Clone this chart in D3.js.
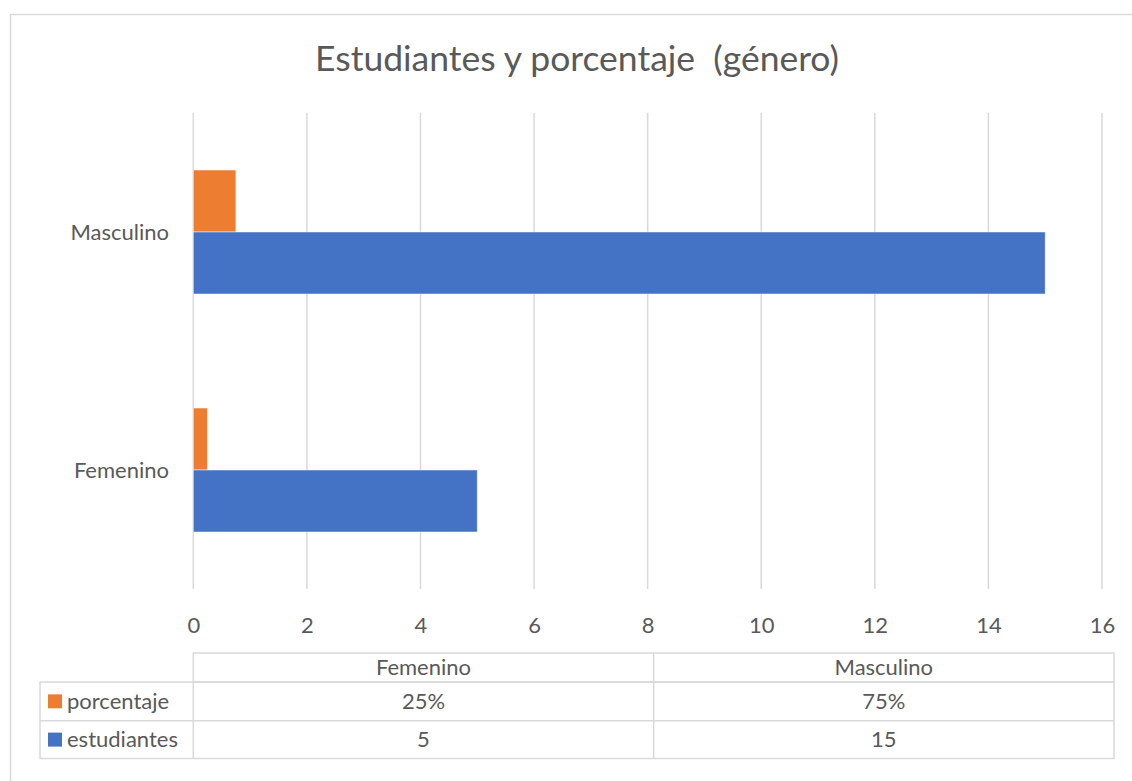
<!DOCTYPE html>
<html>
<head>
<meta charset="utf-8">
<script src="https://cdn.jsdelivr.net/npm/d3@7"></script>
<style>
  html, body { margin: 0; padding: 0; background: #fff; }
  svg { display: block; font-family: Lato, "Open Sans", sans-serif; }
  text { fill: #595959; }
</style>
</head>
<body>
<svg id="chart" width="1132" height="781"></svg>
<script>
// Categories and series
const categories = ["Masculino", "Femenino"];
const seriesNames = ["porcentaje", "estudiantes"];
const seriesColors = ["#ED7D31", "#4472C4"];
const tableColumns = ["Femenino", "Masculino"];
const estudiantes = { Femenino: 5, Masculino: 15 };
const porcentaje = { Femenino: 0.25, Masculino: 0.75 };
const xTickValues = [0, 2, 4, 6, 8, 10, 12, 14, 16];
const titleText = "Estudiantes y porcentaje  (género)";

const seriesValues = { porcentaje, estudiantes };
const valueFormat = { porcentaje: d3.format(".0%"), estudiantes: d3.format("d") };

const svg = d3.select("#chart");
const gridColor = "#D9D9D9";
const labelSize = 22;

// Chart frame
svg.append("rect")
  .attr("x", 10.5).attr("y", 14.5)
  .attr("width", 1140).attr("height", 790)
  .attr("fill", "#fff").attr("stroke", gridColor).attr("stroke-width", 1.5);

// Title
svg.append("text")
  .attr("x", 577).attr("y", 71)
  .attr("text-anchor", "middle")
  .style("white-space", "pre")
  .attr("font-size", 35.5)
  .text(titleText);

// Scales
const plotTop = 113, plotBottom = 589;
const x = d3.scaleLinear().domain([0, 16]).range([193.3, 1102]);
const y = d3.scaleBand().domain(categories).range([plotTop, plotBottom])
  .paddingInner(0.479).paddingOuter(0.2395);
const ySub = d3.scaleBand().domain(seriesNames).range([0, y.bandwidth()]);
const color = d3.scaleOrdinal().domain(seriesNames).range(seriesColors);

// Vertical gridlines
svg.append("g").selectAll("line").data(xTickValues).join("line")
  .attr("x1", d => x(d)).attr("x2", d => x(d))
  .attr("y1", plotTop).attr("y2", plotBottom)
  .attr("stroke", gridColor).attr("stroke-width", 1.5);

// Bottom axis labels
const xAxis = d3.axisBottom(x).tickValues(xTickValues).tickSize(0).tickPadding(0);
const gx = svg.append("g").attr("transform", `translate(0,633)`).call(xAxis);
gx.select(".domain").remove();
gx.selectAll("text")
  .attr("font-family", "Lato, 'Open Sans', sans-serif")
  .attr("font-size", labelSize).attr("fill", "#595959").attr("y", 0).attr("dy", 0);

// Category labels
svg.append("g").selectAll("text").data(categories).join("text")
  .attr("x", 169).attr("y", d => y(d) + y.bandwidth() / 2)
  .attr("text-anchor", "end").attr("dy", "0.35em")
  .attr("font-size", labelSize)
  .text(d => d);

// Bars
const groups = svg.append("g").selectAll("g").data(categories).join("g")
  .attr("transform", d => `translate(0,${y(d)})`);
groups.selectAll("rect")
  .data(cat => seriesNames.map(s => ({ series: s, value: seriesValues[s][cat] })))
  .join("rect")
  .attr("x", x(0))
  .attr("y", d => ySub(d.series))
  .attr("width", d => x(d.value) - x(0))
  .attr("height", ySub.bandwidth())
  .attr("fill", d => color(d.series))
  .attr("stroke", "rgba(255,255,255,0.6)").attr("stroke-width", 0.8);

// Data table
const tableLeft = 40, tableRight = 1114;
const headerTop = 653, rowTops = [682, 720.7], rowBottom = 758.5;
const col = d3.scaleBand().domain(tableColumns).range([x(0), tableRight]);
const table = svg.append("g")
  .attr("fill", "none").attr("stroke", gridColor).attr("stroke-width", 1.5);

// header box
table.append("rect").attr("x", x(0)).attr("y", headerTop)
  .attr("width", tableRight - x(0)).attr("height", rowTops[0] - headerTop);
// body box
table.append("rect").attr("x", tableLeft).attr("y", rowTops[0])
  .attr("width", tableRight - tableLeft).attr("height", rowBottom - rowTops[0]);
// row separator
table.append("line").attr("x1", tableLeft).attr("x2", tableRight)
  .attr("y1", rowTops[1]).attr("y2", rowTops[1]);
// column separators
[x(0), ...tableColumns.slice(1).map(c => col(c))].forEach(cx => {
  table.append("line").attr("x1", cx).attr("x2", cx)
    .attr("y1", cx === x(0) ? rowTops[0] : headerTop).attr("y2", rowBottom);
});

// header texts
svg.append("g").selectAll("text").data(tableColumns).join("text")
  .attr("x", d => col(d) + col.bandwidth() / 2)
  .attr("y", (headerTop + rowTops[0]) / 2)
  .attr("text-anchor", "middle").attr("dy", "0.35em")
  .attr("font-size", labelSize)
  .text(d => d);

// rows: legend key, series name, values
const rowBottoms = [rowTops[1], rowBottom];
seriesNames.forEach((s, i) => {
  const cy = (rowTops[i] + rowBottoms[i]) / 2;
  svg.append("rect").attr("x", 48).attr("y", cy - 7)
    .attr("width", 14).attr("height", 14).attr("fill", color(s));
  svg.append("text").attr("x", 67).attr("y", cy).attr("dy", "0.35em")
    .attr("font-size", labelSize).text(s);
  tableColumns.forEach(c => {
    svg.append("text")
      .attr("x", col(c) + col.bandwidth() / 2).attr("y", cy)
      .attr("text-anchor", "middle").attr("dy", "0.35em")
      .attr("font-size", labelSize)
      .text(valueFormat[s](seriesValues[s][c]));
  });
});
</script>
</body>
</html>
